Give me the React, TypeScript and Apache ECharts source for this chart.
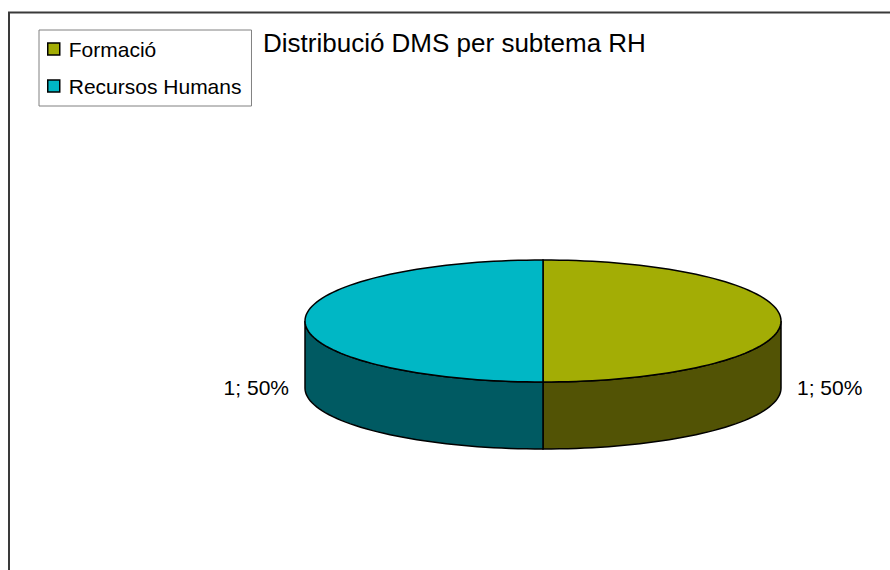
import React, { useEffect, useRef } from "react";
import * as echarts from "echarts";

const categories = ["Formació", "Recursos Humans"];
const values = [1, 1];
const topColors = ["#A3AD05", "#00B7C5"];
const sideColors = ["#525305", "#005A62"];
const titleText = "Distribució DMS per subtema RH";

const FONT = '"Liberation Sans", Arial, Helvetica, sans-serif';
const CX = 543;
const CY = 321;
const RX = 238;
const RY = 61;
const DEPTH = 67;

function pt(theta: number, dy = 0): number[] {
  const r = (theta * Math.PI) / 180;
  return [CX + RX * Math.sin(r), CY - RY * Math.cos(r) + dy];
}

function arcPoints(a0: number, a1: number, dy: number): number[][] {
  const pts: number[][] = [];
  const n = Math.max(2, Math.ceil(Math.abs(a1 - a0) / 2));
  for (let k = 0; k <= n; k++) pts.push(pt(a0 + ((a1 - a0) * k) / n, dy));
  return pts;
}

export default function App() {
  const ref = useRef<HTMLDivElement>(null);
  useEffect(() => {
    if (!ref.current) return;
    const chart = echarts.init(ref.current, undefined, { renderer: "svg" });
    const total = values.reduce((a, b) => a + b, 0);
    const series = categories.map((name, i) => ({
      type: "custom",
      name,
      coordinateSystem: "none",
      itemStyle: { color: topColors[i] },
      data: [[values[i]]],
      renderItem: (_params: any, api: any) => {
        const v = api.value(0);
        let start = 0;
        for (let j = 0; j < i; j++) start += (values[j] / total) * 360;
        const end = start + (v / total) * 360;
        const children: any[] = [];
        const s0 = Math.max(start, 90);
        const s1 = Math.min(end, 270);
        if (s1 > s0) {
          const top = arcPoints(s0, s1, 0);
          const bot = arcPoints(s1, s0, DEPTH);
          children.push({
            type: "polygon",
            z2: 1,
            shape: { points: top.concat(bot) },
            style: { fill: sideColors[i], stroke: "#000", lineWidth: 1.5 },
          });
        }
        children.push({
          type: "polygon",
          z2: 2,
          shape: { points: [[CX, CY]].concat(arcPoints(start, end, 0)) },
          style: { fill: topColors[i], stroke: "#000", lineWidth: 1.5 },
        });
        const mid = ((start + end) / 2) * (Math.PI / 180);
        const s = Math.sin(mid);
        const lx = CX + (RX + 16) * s;
        const ly = CY - RY * Math.cos(mid) + DEPTH - 1;
        const pct = Math.round((v / total) * 100);
        children.push({
          type: "text",
          z2: 3,
          style: {
            text: `${v}; ${pct}%`,
            x: lx,
            y: ly,
            fill: "#000",
            font: `21px ${FONT}`,
            align: s >= 0 ? "left" : "right",
            verticalAlign: "middle",
          },
        });
        return { type: "group", children };
      },
    }));
    chart.setOption({
      animation: false,
      backgroundColor: "#fff",
      textStyle: { fontFamily: FONT },
      title: {
        text: titleText,
        left: 263,
        top: 30,
        padding: 0,
        textStyle: { fontSize: 26, fontWeight: "normal", color: "#000", fontFamily: FONT },
      },
      legend: {
        data: categories,
        orient: "vertical",
        left: 39,
        top: 30,
        padding: [7, 10, 8, 8],
        itemGap: 13,
        itemWidth: 12,
        itemHeight: 12,
        icon: "rect",
        borderColor: "#808080",
        borderWidth: 1,
        backgroundColor: "#fff",
        itemStyle: { borderColor: "#000", borderWidth: 1.5 },
        textStyle: {
          fontSize: 21,
          lineHeight: 24,
          color: "#000",
          fontFamily: FONT,
          padding: [0, 0, 0, 4],
        },
        selectedMode: false,
      },
      graphic: [
        {
          type: "rect",
          silent: true,
          shape: { x: 9, y: 12.5, width: 1000, height: 1000 },
          style: { fill: "none", stroke: "#3a3a3a", lineWidth: 2 },
        },
      ],
      series,
    });
    return () => chart.dispose();
  }, []);
  return (
    <div
      ref={ref}
      style={{ position: "absolute", left: 0, top: 0, width: 890, height: 570 }}
    />
  );
}
